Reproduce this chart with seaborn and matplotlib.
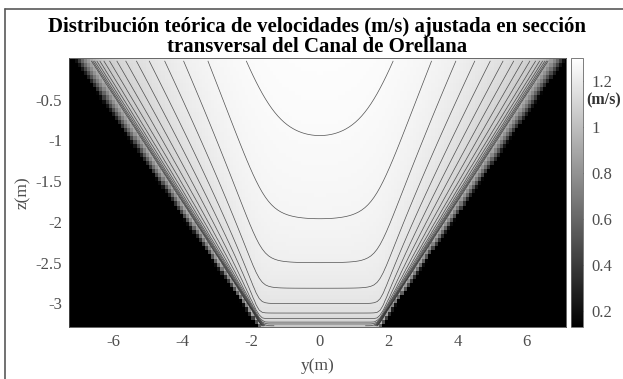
import numpy as np
import matplotlib
matplotlib.use("Agg")
import matplotlib.pyplot as plt
import seaborn as sns
from matplotlib.lines import Line2D

# channel geometry (m)
bed_half_width = 1.8
wall_slope = 1.65         # horizontal per vertical
bed_level = -3.3
surface_level = 0.0

# fitted velocity law (m/s)
u_max = 1.297
k_bed = 0.039
k_wall = 0.107
r_wall = 0.855
wall_layer = [0.05, 0.03]   # near-wall damping thickness: base + per metre above bed

# axes, ticks and levels
x_limits = [-7.28, 7.15]
z_limits = [-3.29, 0.01]
x_ticks = [-6, -4, -2, 0, 2, 4, 6]
z_ticks = [-3, -2.5, -2, -1.5, -1, -0.5]
z_tick_labels = ["-3", "-2.5", "-2", "-1.5", "-1", "-0.5"]
cbar_ticks = [0.2, 0.4, 0.6, 0.8, 1.0, 1.2]
cbar_tick_labels = ["0.2", "0.4", "0.6", "0.8", "1", "1.2"]
color_limits = [0.13, 1.30]
contour_levels = [0.925, 0.95, 0.975, 1.0, 1.025, 1.05, 1.075, 1.1,
                  1.125, 1.15, 1.175, 1.2, 1.225, 1.25, 1.275]

title = ("Distribución teórica de velocidades (m/s) ajustada en sección\n"
         "transversal del Canal de Orellana")

# grid of cells
y_edges = np.linspace(-7.3, 7.3, 163)
z_edges = np.linspace(bed_level, surface_level, 67)
y_c = 0.5 * (y_edges[1:] + y_edges[:-1])
z_c = 0.5 * (z_edges[1:] + z_edges[:-1])
Y, Z = np.meshgrid(y_c, z_c)

depth = surface_level - bed_level
d_bed = Z - bed_level
half_width = bed_half_width + wall_slope * d_bed
norm = np.sqrt(1 + wall_slope ** 2)
h_left = half_width + Y
h_right = half_width - Y
inside = (h_left > 0) & (h_right > 0)
d_left = np.clip(h_left, 1e-6, None) / norm
d_right = np.clip(h_right, 1e-6, None) / norm
d_wall = (d_left ** -4 + d_right ** -4) ** -0.25

f_bed = 1 + k_bed * np.log(d_bed / depth)
raw = 1 + k_wall * np.log(d_wall / d_bed / r_wall)
beta = 60.0
f_wall = -np.logaddexp(-beta, -beta * raw) / beta
delta = wall_layer[0] + wall_layer[1] * d_bed
g_wall = 1 - np.exp(-(d_wall / delta) ** 1.5)
U = u_max * f_bed * np.clip(f_wall, 0, None) * g_wall
U = np.clip(U, 0, None)
U[~inside] = 0.0
U_lines = np.ma.masked_where(~inside, U)

# style
sns.set_style("white")
plt.rcParams["font.family"] = ["Liberation Serif", "DejaVu Serif"]
plt.rcParams["axes.unicode_minus"] = False

fig = plt.figure(figsize=(6.23, 3.79), dpi=100)
ax = fig.add_axes([69 / 623, 1 - 327 / 379, 497 / 623, 269 / 379])
cax = fig.add_axes([571 / 623, 1 - 327 / 379, 12 / 623, 269 / 379])

mesh = ax.pcolormesh(y_edges, z_edges, U, cmap="gray",
                     vmin=color_limits[0], vmax=color_limits[1],
                     shading="flat", rasterized=True)
ax.contour(Y, Z, U_lines, levels=contour_levels, colors="0.2",
           linewidths=0.5, alpha=0.85)

ax.set_xlim(x_limits)
ax.set_ylim(z_limits)
ax.set_xticks(x_ticks)
ax.set_yticks(z_ticks)
ax.set_yticklabels(z_tick_labels)
ax.tick_params(direction="in", length=3, labelsize=12, colors="0.3",
               labelcolor="0.3", pad=5)
for s in ax.spines.values():
    s.set_color("0.3")
    s.set_linewidth(0.6)
ax.set_xlabel("y(m)", fontsize=12.5, color="0.3", labelpad=6)
ax.set_ylabel("z(m)", fontsize=12.5, color="0.3", labelpad=3)
ax.set_title(title, fontsize=15, fontweight="bold", color="black",
             pad=4, linespacing=1.0)

cb = fig.colorbar(mesh, cax=cax)
cb.set_ticks(cbar_ticks)
cb.set_ticklabels(cbar_tick_labels)
cb.ax.tick_params(direction="in", length=2, labelsize=12, colors="0.4",
                  labelcolor="0.3", pad=6)
cb.outline.set_edgecolor("0.4")
cb.outline.set_linewidth(0.6)
cax.text(1.25, 1.115, "(m/s)", transform=cax.get_yaxis_transform(),
         fontsize=11.5, fontweight="bold", color="0.2", ha="left", va="center")

# figure frame (left and top edges)
fig.add_artist(Line2D([4.5 / 623, 4.5 / 623], [0, 1 - 9 / 379],
                      transform=fig.transFigure, color="0.35", lw=1.2))
fig.add_artist(Line2D([4.5 / 623, 1], [1 - 9 / 379, 1 - 9 / 379],
                      transform=fig.transFigure, color="0.35", lw=1.2))

fig.savefig("out.png", dpi=100)
